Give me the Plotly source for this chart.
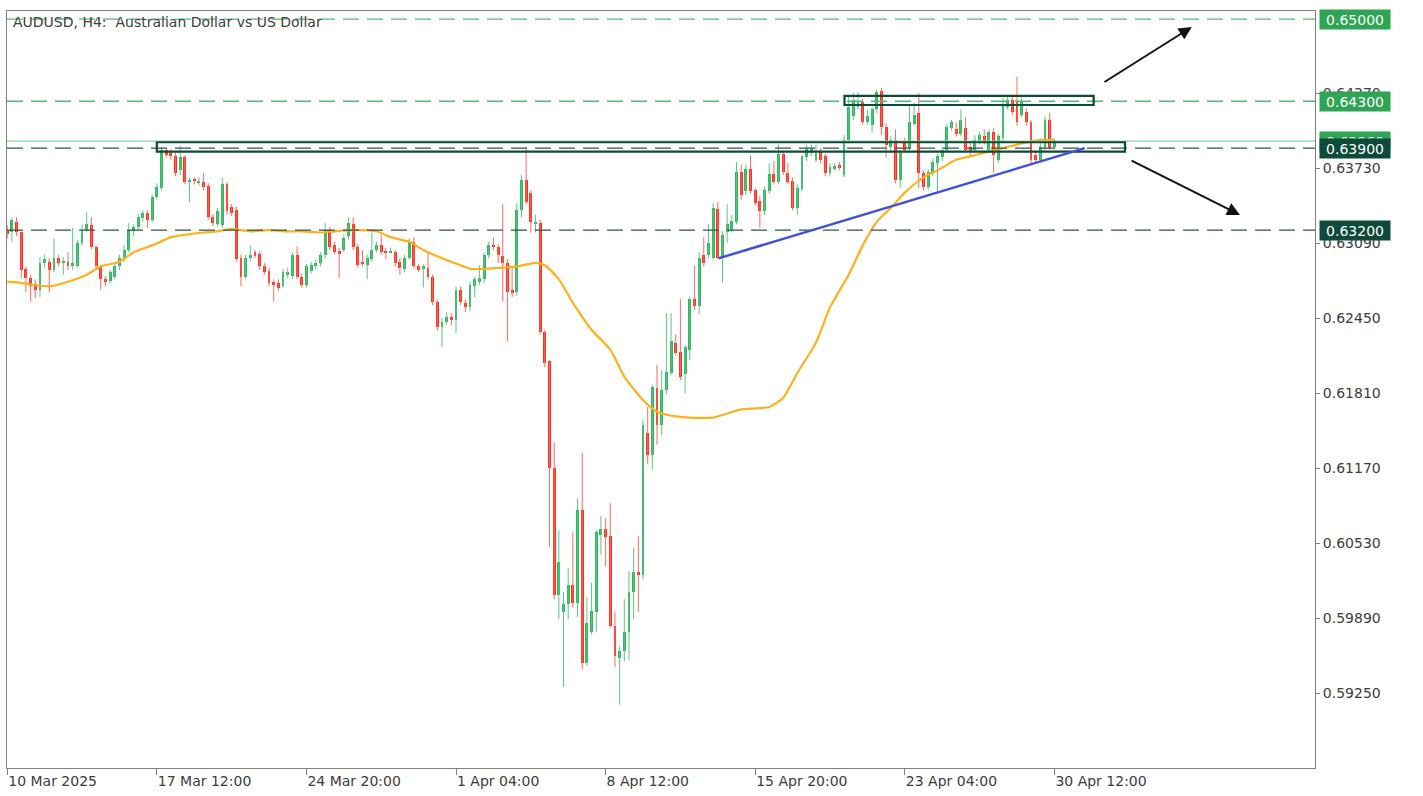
import plotly.graph_objects as go

# ---------------- data (AUDUSD H4, bar index 0 = 10 Mar 2025 04:00) ----------------
OPEN = [
    0.6320, 0.6318, 0.6327, 0.6318, 0.6287, 0.6279, 0.6274, 0.6269, 0.6292, 0.6293,
    0.6286, 0.6296, 0.6292, 0.6293, 0.6289, 0.6289, 0.6309, 0.6320, 0.6324, 0.6306,
    0.6289, 0.6278, 0.6277, 0.6280, 0.6289, 0.6296, 0.6303, 0.6319, 0.6323, 0.6330,
    0.6335, 0.6329, 0.6348, 0.6356, 0.6388, 0.6386, 0.6383, 0.6371, 0.6382, 0.6361,
    0.6363, 0.6360, 0.6361, 0.6358, 0.6331, 0.6325, 0.6324, 0.6359, 0.6340, 0.6337,
    0.6296, 0.6280, 0.6296, 0.6301, 0.6300, 0.6289, 0.6285, 0.6276, 0.6275, 0.6272,
    0.6282, 0.6281, 0.6299, 0.6280, 0.6273, 0.6285, 0.6289, 0.6292, 0.6299, 0.6320,
    0.6307, 0.6302, 0.6303, 0.6315, 0.6325, 0.6306, 0.6293, 0.6290, 0.6295, 0.6303,
    0.6307, 0.6302, 0.6301, 0.6301, 0.6293, 0.6287, 0.6296, 0.6310, 0.6289, 0.6287,
    0.6288, 0.6280, 0.6259, 0.6237, 0.6242, 0.6246, 0.6243, 0.6269, 0.6258, 0.6254,
    0.6272, 0.6276, 0.6278, 0.6299, 0.6307, 0.6306, 0.6298, 0.6292, 0.6269, 0.6267,
    0.6337, 0.6363, 0.6352, 0.6325, 0.6326, 0.6233, 0.6208, 0.6117, 0.6009, 0.5994,
    0.6001, 0.6017, 0.6002, 0.6081, 0.5951, 0.5977, 0.5994, 0.6060, 0.6065, 0.6059,
    0.5982, 0.5955, 0.5961, 0.5977, 0.6011, 0.6028, 0.6026, 0.6147, 0.6128, 0.6185,
    0.6154, 0.6184, 0.6198, 0.6224, 0.6216, 0.6197, 0.6218, 0.6261, 0.6255, 0.6299,
    0.6299, 0.6296, 0.6338, 0.6296, 0.6318, 0.6320, 0.6327, 0.6370, 0.6353, 0.6372,
    0.6354, 0.6345, 0.6336, 0.6353, 0.6368, 0.6361, 0.6385, 0.6369, 0.6362, 0.6339,
    0.6355, 0.6382, 0.6386, 0.6380, 0.6387, 0.6383, 0.6369, 0.6372, 0.6376, 0.6367,
    0.6397, 0.6417, 0.6425, 0.6429, 0.6412, 0.6410, 0.6423, 0.6439, 0.6408, 0.6391,
    0.6397, 0.6363, 0.6395, 0.6390, 0.6411, 0.6420, 0.6369, 0.6357, 0.6369, 0.6377,
    0.6382, 0.6388, 0.6407, 0.6406, 0.6402, 0.6407, 0.6391, 0.6388, 0.6395, 0.6400,
    0.6388, 0.6404, 0.6380, 0.6399, 0.6425, 0.6431, 0.6429, 0.6418, 0.6421, 0.6412,
    0.6384, 0.6380, 0.6390, 0.6414, 0.6391,
]
HIGH = [
    0.6324, 0.6331, 0.6331, 0.6319, 0.6289, 0.6282, 0.6278, 0.6297, 0.6299, 0.6296,
    0.6313, 0.6299, 0.6297, 0.6301, 0.6322, 0.6312, 0.6325, 0.6335, 0.6331, 0.6307,
    0.6290, 0.6281, 0.6286, 0.6291, 0.6299, 0.6307, 0.6326, 0.6325, 0.6334, 0.6337,
    0.6337, 0.6350, 0.6360, 0.6391, 0.6390, 0.6389, 0.6387, 0.6392, 0.6384, 0.6365,
    0.6365, 0.6365, 0.6369, 0.6360, 0.6334, 0.6339, 0.6365, 0.6361, 0.6342, 0.6340,
    0.6299, 0.6299, 0.6307, 0.6303, 0.6302, 0.6292, 0.6288, 0.6278, 0.6278, 0.6287,
    0.6288, 0.6301, 0.6306, 0.6283, 0.6291, 0.6293, 0.6295, 0.6301, 0.6326, 0.6323,
    0.6310, 0.6305, 0.6316, 0.6331, 0.6331, 0.6308, 0.6303, 0.6299, 0.6318, 0.6310,
    0.6316, 0.6305, 0.6305, 0.6303, 0.6296, 0.6299, 0.6313, 0.6314, 0.6291, 0.6291,
    0.6301, 0.6282, 0.6261, 0.6245, 0.6250, 0.6249, 0.6272, 0.6272, 0.6261, 0.6276,
    0.6280, 0.6290, 0.6301, 0.6310, 0.6314, 0.6308, 0.6342, 0.6295, 0.6288, 0.6343,
    0.6367, 0.6391, 0.6354, 0.6333, 0.6329, 0.6235, 0.6209, 0.6139, 0.6064, 0.6011,
    0.6032, 0.6062, 0.6091, 0.6130, 0.6007, 0.6019, 0.6064, 0.6076, 0.6074, 0.6087,
    0.5994, 0.5965, 0.6005, 0.6029, 0.6049, 0.6059, 0.6158, 0.6169, 0.6188, 0.6205,
    0.6201, 0.6249, 0.6249, 0.6231, 0.6261, 0.6222, 0.6263, 0.6290, 0.6301, 0.6314,
    0.6325, 0.6343, 0.6344, 0.6319, 0.6342, 0.6333, 0.6378, 0.6376, 0.6376, 0.6384,
    0.6356, 0.6349, 0.6357, 0.6377, 0.6379, 0.6393, 0.6388, 0.6377, 0.6365, 0.6359,
    0.6384, 0.6393, 0.6393, 0.6393, 0.6390, 0.6385, 0.6377, 0.6377, 0.6378, 0.6401,
    0.6435, 0.6437, 0.6438, 0.6432, 0.6423, 0.6425, 0.6440, 0.6441, 0.6411, 0.6400,
    0.6406, 0.6388, 0.6399, 0.6427, 0.6429, 0.6437, 0.6371, 0.6372, 0.6381, 0.6385,
    0.6391, 0.6411, 0.6414, 0.6412, 0.6423, 0.6416, 0.6394, 0.6401, 0.6404, 0.6406,
    0.6406, 0.6407, 0.6402, 0.6433, 0.6435, 0.6434, 0.6451, 0.6433, 0.6424, 0.6414,
    0.6387, 0.6394, 0.6417, 0.6420, 0.6398,
]
LOW = [
    0.6313, 0.6310, 0.6315, 0.6279, 0.6267, 0.6259, 0.6262, 0.6263, 0.6288, 0.6267,
    0.6284, 0.6289, 0.6282, 0.6286, 0.6286, 0.6288, 0.6307, 0.6318, 0.6304, 0.6286,
    0.6269, 0.6272, 0.6274, 0.6278, 0.6286, 0.6293, 0.6301, 0.6315, 0.6320, 0.6327,
    0.6322, 0.6327, 0.6346, 0.6354, 0.6382, 0.6380, 0.6366, 0.6367, 0.6359, 0.6344,
    0.6359, 0.6358, 0.6354, 0.6329, 0.6323, 0.6323, 0.6322, 0.6333, 0.6332, 0.6293,
    0.6272, 0.6278, 0.6293, 0.6296, 0.6286, 0.6282, 0.6272, 0.6259, 0.6268, 0.6271,
    0.6279, 0.6278, 0.6278, 0.6271, 0.6271, 0.6283, 0.6287, 0.6289, 0.6296, 0.6303,
    0.6299, 0.6279, 0.6301, 0.6312, 0.6303, 0.6288, 0.6289, 0.6278, 0.6293, 0.6301,
    0.6299, 0.6295, 0.6300, 0.6289, 0.6282, 0.6284, 0.6295, 0.6287, 0.6284, 0.6271,
    0.6278, 0.6256, 0.6234, 0.6220, 0.6239, 0.6239, 0.6232, 0.6256, 0.6250, 0.6251,
    0.6263, 0.6273, 0.6275, 0.6296, 0.6303, 0.6292, 0.6259, 0.6225, 0.6263, 0.6264,
    0.6331, 0.6342, 0.6318, 0.6318, 0.6231, 0.6203, 0.6050, 0.6005, 0.5988, 0.5930,
    0.5988, 0.5998, 0.5990, 0.5945, 0.5948, 0.5975, 0.5977, 0.6043, 0.6033, 0.5981,
    0.5947, 0.5915, 0.5952, 0.5953, 0.5988, 0.5994, 0.6022, 0.6120, 0.6116, 0.6137,
    0.6145, 0.6180, 0.6196, 0.6213, 0.6192, 0.6181, 0.6209, 0.6252, 0.6248, 0.6289,
    0.6296, 0.6295, 0.6295, 0.6275, 0.6309, 0.6318, 0.6325, 0.6346, 0.6350, 0.6351,
    0.6341, 0.6322, 0.6333, 0.6351, 0.6359, 0.6359, 0.6367, 0.6359, 0.6337, 0.6333,
    0.6353, 0.6379, 0.6383, 0.6378, 0.6377, 0.6366, 0.6366, 0.6371, 0.6371, 0.6365,
    0.6394, 0.6414, 0.6423, 0.6410, 0.6410, 0.6403, 0.6420, 0.6401, 0.6382, 0.6388,
    0.6360, 0.6356, 0.6386, 0.6388, 0.6409, 0.6356, 0.6354, 0.6354, 0.6366, 0.6353,
    0.6379, 0.6386, 0.6405, 0.6400, 0.6400, 0.6386, 0.6384, 0.6386, 0.6393, 0.6393,
    0.6386, 0.6369, 0.6377, 0.6396, 0.6423, 0.6418, 0.6409, 0.6416, 0.6409, 0.6377,
    0.6378, 0.6378, 0.6388, 0.6388, 0.6390,
]
CLOSE = [
    0.6317, 0.6329, 0.6318, 0.6286, 0.6279, 0.6272, 0.6269, 0.6292, 0.6295, 0.6286,
    0.6296, 0.6292, 0.6294, 0.6289, 0.6292, 0.6309, 0.6320, 0.6325, 0.6306, 0.6289,
    0.6278, 0.6276, 0.6284, 0.6289, 0.6296, 0.6303, 0.6320, 0.6323, 0.6331, 0.6335,
    0.6329, 0.6348, 0.6357, 0.6388, 0.6384, 0.6383, 0.6369, 0.6382, 0.6361, 0.6363,
    0.6362, 0.6362, 0.6357, 0.6331, 0.6326, 0.6336, 0.6359, 0.6336, 0.6335, 0.6295,
    0.6280, 0.6296, 0.6299, 0.6298, 0.6289, 0.6284, 0.6275, 0.6273, 0.6271, 0.6284,
    0.6284, 0.6299, 0.6280, 0.6273, 0.6289, 0.6290, 0.6292, 0.6299, 0.6320, 0.6306,
    0.6301, 0.6300, 0.6313, 0.6326, 0.6306, 0.6290, 0.6291, 0.6296, 0.6303, 0.6307,
    0.6301, 0.6301, 0.6302, 0.6292, 0.6288, 0.6296, 0.6310, 0.6289, 0.6286, 0.6289,
    0.6280, 0.6259, 0.6237, 0.6242, 0.6246, 0.6243, 0.6269, 0.6259, 0.6254, 0.6273,
    0.6278, 0.6279, 0.6299, 0.6307, 0.6306, 0.6299, 0.6292, 0.6267, 0.6266, 0.6337,
    0.6363, 0.6344, 0.6327, 0.6327, 0.6233, 0.6207, 0.6117, 0.6009, 0.6037, 0.6001,
    0.6017, 0.6002, 0.6081, 0.5951, 0.5985, 0.5995, 0.6062, 0.6065, 0.6058, 0.5982,
    0.5957, 0.5961, 0.5977, 0.6011, 0.6028, 0.6026, 0.6154, 0.6128, 0.6186, 0.6154,
    0.6184, 0.6199, 0.6225, 0.6215, 0.6195, 0.6220, 0.6261, 0.6255, 0.6296, 0.6292,
    0.6309, 0.6339, 0.6296, 0.6316, 0.6325, 0.6328, 0.6370, 0.6350, 0.6372, 0.6353,
    0.6343, 0.6336, 0.6354, 0.6368, 0.6361, 0.6385, 0.6370, 0.6361, 0.6339, 0.6356,
    0.6383, 0.6389, 0.6389, 0.6386, 0.6380, 0.6369, 0.6374, 0.6375, 0.6373, 0.6397,
    0.6425, 0.6431, 0.6429, 0.6412, 0.6417, 0.6423, 0.6438, 0.6408, 0.6393, 0.6397,
    0.6363, 0.6386, 0.6388, 0.6412, 0.6418, 0.6369, 0.6357, 0.6370, 0.6378, 0.6383,
    0.6388, 0.6408, 0.6412, 0.6402, 0.6414, 0.6388, 0.6387, 0.6397, 0.6401, 0.6395,
    0.6404, 0.6384, 0.6400, 0.6427, 0.6431, 0.6421, 0.6412, 0.6429, 0.6412, 0.6380,
    0.6380, 0.6391, 0.6414, 0.6390, 0.6396,
]

# 50-period moving average, read at selected bars
MA_BARS = [0, 3, 6, 9, 13, 17, 20, 24, 27, 31, 35, 38, 42, 45, 48, 52, 56, 59, 63, 67,
           70, 74, 79, 82, 86, 89, 93, 97, 99, 102, 106, 109, 113, 115, 118, 121, 125, 129, 132, 136,
           139, 143, 146, 151, 157, 163, 166, 169, 173, 176, 180, 183, 186, 189, 192, 196, 199, 203, 206, 210,
           213, 217, 221, 224]
MA_VALUES = [0.6276, 0.6275, 0.6273, 0.6272, 0.6276, 0.6282, 0.6289, 0.6293, 0.6301, 0.6307,
             0.6314, 0.6316, 0.6318, 0.6319, 0.6321, 0.6319, 0.6320, 0.6319, 0.6319, 0.6318,
             0.6319, 0.6320, 0.6319, 0.6314, 0.6310, 0.6303, 0.6296, 0.6290, 0.6287, 0.6287,
             0.6288, 0.6289, 0.6292, 0.6290, 0.6278, 0.6258, 0.6235, 0.6218, 0.6195, 0.6175,
             0.6165, 0.6161, 0.6160, 0.6160, 0.6167, 0.6169, 0.6177, 0.6198, 0.6224, 0.6254,
             0.6282, 0.6307, 0.6327, 0.6339, 0.6352, 0.6365, 0.6371, 0.6380, 0.6383, 0.6387,
             0.6390, 0.6394, 0.6397, 0.6397]

TICK_BARS = [0, 32, 64, 96, 128, 160, 192, 224]
TICK_LABELS = ["10 Mar 2025", "17 Mar 12:00", "24 Mar 20:00", "1 Apr 04:00",
               "8 Apr 12:00", "15 Apr 20:00", "23 Apr 04:00", "30 Apr 12:00"]
PRICE_TICKS = [0.5925, 0.5989, 0.6053, 0.6117, 0.6181, 0.6245, 0.6309, 0.6373, 0.6437]

LEVELS_UPPER = [0.6500, 0.6430]      # light green dashed levels
LEVELS_LOWER = [0.6390, 0.6320]      # dark dashed levels
LAST_PRICE = 0.6396
LAST_PRICE_TEXT = "0.63960"

# drawing objects (bar index, price)
SUPPORT_BOX = (32.0, 0.6387, 239.1, 0.6395)
RESIST_BOX = (179.1, 0.64268, 232.4, 0.64345)
TREND_LINE = (152.2, 0.6296, 230.5, 0.6390)
ARROW_UP = (234.4, 0.64456, 253.4, 0.64934)     # tail -> head
ARROW_DOWN = (240.2, 0.63799, 263.7, 0.63330)   # tail -> head

TITLE = "AUDUSD, H4:  Australian Dollar vs US Dollar"

assert len(OPEN) == len(HIGH) == len(LOW) == len(CLOSE)
assert len(MA_BARS) == len(MA_VALUES)

# ---------------- styles ----------------
BULL = "#2fb65e"
BEAR = "#ff2e1f"
BULL_WICK = "#5cc483"
BEAR_WICK = "#ff6a5e"
MA_COLOR = "#fdb11f"
TREND_COLOR = "#4252d8"
BOX_COLOR = "#0b4b39"
UPPER_COLOR = "#56b677"
LOWER_COLOR = "#2f5449"
LAST_COLOR = "#8dd3a3"
LABEL_GREEN = "#2ea553"
LABEL_DARK = "#0d4a39"
FONT = "DejaVu Sans"
TEXT_COLOR = "#3c3c3c"
AXIS_COLOR = "#808080"

bars = list(range(len(CLOSE)))
up = [i for i in bars if CLOSE[i] >= OPEN[i]]
dn = [i for i in bars if CLOSE[i] < OPEN[i]]

fig = go.Figure()


def wick_xy(idx):
    xs, ys = [], []
    for i in idx:
        xs += [i, i, None]
        ys += [LOW[i], HIGH[i], None]
    return xs, ys


for idx, wcol in [(up, BULL_WICK), (dn, BEAR_WICK)]:
    xs, ys = wick_xy(idx)
    fig.add_trace(go.Scatter(x=xs, y=ys, mode="lines", line=dict(color=wcol, width=1),
                             hoverinfo="skip", showlegend=False))

for idx, col in [(up, BULL), (dn, BEAR)]:
    base = [min(OPEN[i], CLOSE[i]) for i in idx]
    hgt = [max(abs(CLOSE[i] - OPEN[i]), 0.00004) for i in idx]
    fig.add_trace(go.Bar(x=idx, y=hgt, base=base, width=0.62,
                         marker=dict(color=col, line=dict(width=0)), showlegend=False))

fig.add_trace(go.Scatter(x=MA_BARS, y=MA_VALUES, mode="lines",
                         line=dict(color=MA_COLOR, width=2.2, shape="spline", smoothing=0.6),
                         showlegend=False, hoverinfo="skip"))

shapes = []
for lv in LEVELS_UPPER:
    shapes.append(dict(type="line", xref="paper", x0=0, x1=1, yref="y", y0=lv, y1=lv,
                       line=dict(color=UPPER_COLOR, width=1.3, dash="16px,8px")))
for lv in LEVELS_LOWER:
    shapes.append(dict(type="line", xref="paper", x0=0, x1=1, yref="y", y0=lv, y1=lv,
                       line=dict(color=LOWER_COLOR, width=1.3, dash="16px,8px")))
shapes.append(dict(type="line", xref="paper", x0=0, x1=1, yref="y", y0=LAST_PRICE, y1=LAST_PRICE,
                   line=dict(color=LAST_COLOR, width=1.2)))
for bx in (SUPPORT_BOX, RESIST_BOX):
    shapes.append(dict(type="rect", xref="x", yref="y", x0=bx[0], y0=bx[1], x1=bx[2], y1=bx[3],
                       line=dict(color=BOX_COLOR, width=2.2), fillcolor="rgba(0,0,0,0)"))
shapes.append(dict(type="line", xref="x", yref="y", x0=TREND_LINE[0], y0=TREND_LINE[1],
                   x1=TREND_LINE[2], y1=TREND_LINE[3], line=dict(color=TREND_COLOR, width=2.5)))

annotations = []
for ar in (ARROW_UP, ARROW_DOWN):
    annotations.append(dict(x=ar[2], y=ar[3], ax=ar[0], ay=ar[1], xref="x", yref="y",
                            axref="x", ayref="y", showarrow=True, text="", arrowhead=2,
                            arrowsize=1.3, arrowwidth=2, arrowcolor="#111111", standoff=0))

annotations.append(dict(x=0, y=1, xref="paper", yref="paper", xshift=4, yshift=-11,
                        xanchor="left", yanchor="middle", text=TITLE, showarrow=False,
                        font=dict(family=FONT, size=14, color="#404040")))


def price_label(price, text, bg):
    annotations.append(dict(x=1, xref="paper", xshift=4, xanchor="left", y=price, yref="y",
                            yanchor="middle", text=text, showarrow=False, bgcolor=bg,
                            width=68, height=17, borderpad=1, align="center",
                            font=dict(family=FONT, size=14, color="white")))


price_label(LEVELS_UPPER[0], f"{LEVELS_UPPER[0]:.5f}", LABEL_GREEN)
price_label(LEVELS_UPPER[1], f"{LEVELS_UPPER[1]:.5f}", LABEL_GREEN)
price_label(LAST_PRICE, LAST_PRICE_TEXT, LABEL_GREEN)
price_label(LEVELS_LOWER[0], f"{LEVELS_LOWER[0]:.5f}", LABEL_DARK)
price_label(LEVELS_LOWER[1], f"{LEVELS_LOWER[1]:.5f}", LABEL_DARK)

fig.update_layout(
    width=1423, height=796,
    margin=dict(l=7, r=108, t=11, b=28),
    paper_bgcolor="white", plot_bgcolor="white",
    showlegend=False, barmode="overlay", bargap=0,
    font=dict(family=FONT, size=14, color=TEXT_COLOR),
    shapes=shapes, annotations=annotations,
    xaxis=dict(range=[-0.05, 279.75], tickvals=TICK_BARS, ticktext=TICK_LABELS,
               ticks="outside", ticklen=6, tickcolor=AXIS_COLOR, tickwidth=1,
               ticklabelposition="outside right",
               showline=True, linecolor=AXIS_COLOR, linewidth=1, mirror=True,
               showgrid=False, zeroline=False, fixedrange=True,
               tickfont=dict(family=FONT, size=14, color=TEXT_COLOR)),
    yaxis=dict(side="right", range=[0.58610, 0.65070], tickvals=PRICE_TICKS,
               ticktext=[f"{v:.5f}" for v in PRICE_TICKS],
               ticks="outside", ticklen=4, tickcolor=AXIS_COLOR, tickwidth=1,
               showline=True, linecolor=AXIS_COLOR, linewidth=1, mirror=True,
               showgrid=False, zeroline=False, fixedrange=True,
               tickfont=dict(family=FONT, size=14, color=TEXT_COLOR)),
)

fig.write_html("out.html", config={"displayModeBar": False},
               post_script="document.body.style.margin='0px';")
